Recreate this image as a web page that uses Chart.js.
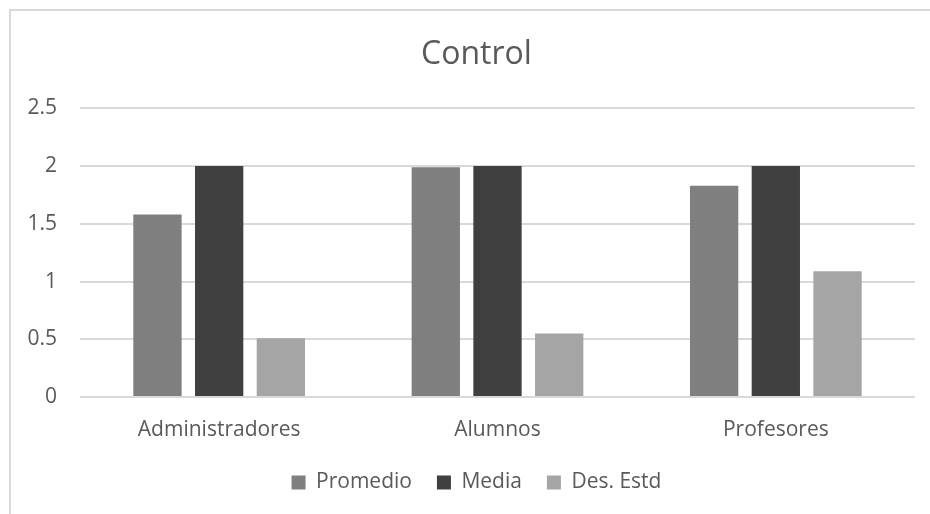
<!DOCTYPE html>
<html>
<head>
<meta charset="utf-8">
<script src="https://cdn.jsdelivr.net/npm/chart.js@4/dist/chart.umd.min.js"></script>
<style>
  html, body { margin: 0; padding: 0; background: #ffffff; overflow: hidden; }
  #wrap { position: relative; width: 930px; height: 514px; overflow: hidden; }
  #frame {
    position: absolute; left: 9px; top: 9px; width: 1000px; height: 1000px;
    border-left: 2px solid #d9d9d9; border-top: 2px solid #d9d9d9;
    box-sizing: border-box;
  }
  #chart { position: absolute; left: 0; top: 0; }
</style>
</head>
<body>
<div id="wrap">
  <div id="frame"></div>
  <canvas id="chart" width="953" height="514"></canvas>
</div>
<script>
// Groups along the x axis
const categories = ['Administradores', 'Alumnos', 'Profesores'];

// Series values per group
const promedio = [1.58, 1.99, 1.83];
const media = [2, 2, 2];
const desEstd = [0.51, 0.55, 1.09];

// Value axis tick labels (0 .. 2.5 in steps of 0.5)
const yTickValues = [0, 0.5, 1, 1.5, 2, 2.5];
const yTickLabels = ['0', '0.5', '1', '1.5', '2', '2.5'];

const textColor = '#595959';
const fontFamily = '"Open Sans", "DejaVu Sans", sans-serif';

new Chart(document.getElementById('chart'), {
  type: 'bar',
  data: {
    labels: categories,
    datasets: [
      { label: 'Promedio', data: promedio, backgroundColor: '#7f7f7f' },
      { label: 'Media', data: media, backgroundColor: '#404040' },
      { label: 'Des. Estd', data: desEstd, backgroundColor: '#a5a5a5' }
    ]
  },
  options: {
    responsive: false,
    animation: false,
    events: [],
    datasets: {
      bar: { categoryPercentage: 0.665, barPercentage: 0.783 }
    },
    layout: { padding: { left: 0, right: 0, top: 0, bottom: 11 } },
    plugins: {
      title: {
        display: true,
        text: 'Control',
        color: textColor,
        font: { family: fontFamily, size: 32, weight: 'normal' },
        padding: { top: 36, bottom: 34 }
      },
      legend: {
        position: 'bottom',
        labels: {
          color: textColor,
          font: { family: fontFamily, size: 21 },
          boxWidth: 14,
          boxHeight: 14,
          padding: 25
        }
      },
      tooltip: { enabled: false }
    },
    scales: {
      x: {
        grid: { display: false, drawTicks: false },
        border: { display: false },
        ticks: {
          color: textColor,
          font: { family: fontFamily, size: 21 },
          padding: 20
        },
        afterFit: (scale) => { scale.height = 50; }
      },
      y: {
        min: 0,
        max: 2.5,
        grid: { color: '#d9d9d9', lineWidth: 2, drawTicks: false },
        border: { display: false },
        afterBuildTicks: (scale) => {
          scale.ticks = yTickValues.map(v => ({ value: v }));
        },
        ticks: {
          color: textColor,
          font: { family: fontFamily, size: 21 },
          padding: 23,
          callback: (value) => {
            const i = yTickValues.indexOf(value);
            return i >= 0 ? yTickLabels[i] : '';
          }
        },
        afterFit: (scale) => { scale.width = 80; }
      },
      // empty right-hand margin of the chart frame
      margin: {
        type: 'linear',
        position: 'right',
        grid: { display: false, drawTicks: false },
        border: { display: false },
        ticks: { display: false },
        afterFit: (scale) => { scale.width = 38; }
      }
    }
  }
});
</script>
</body>
</html>
